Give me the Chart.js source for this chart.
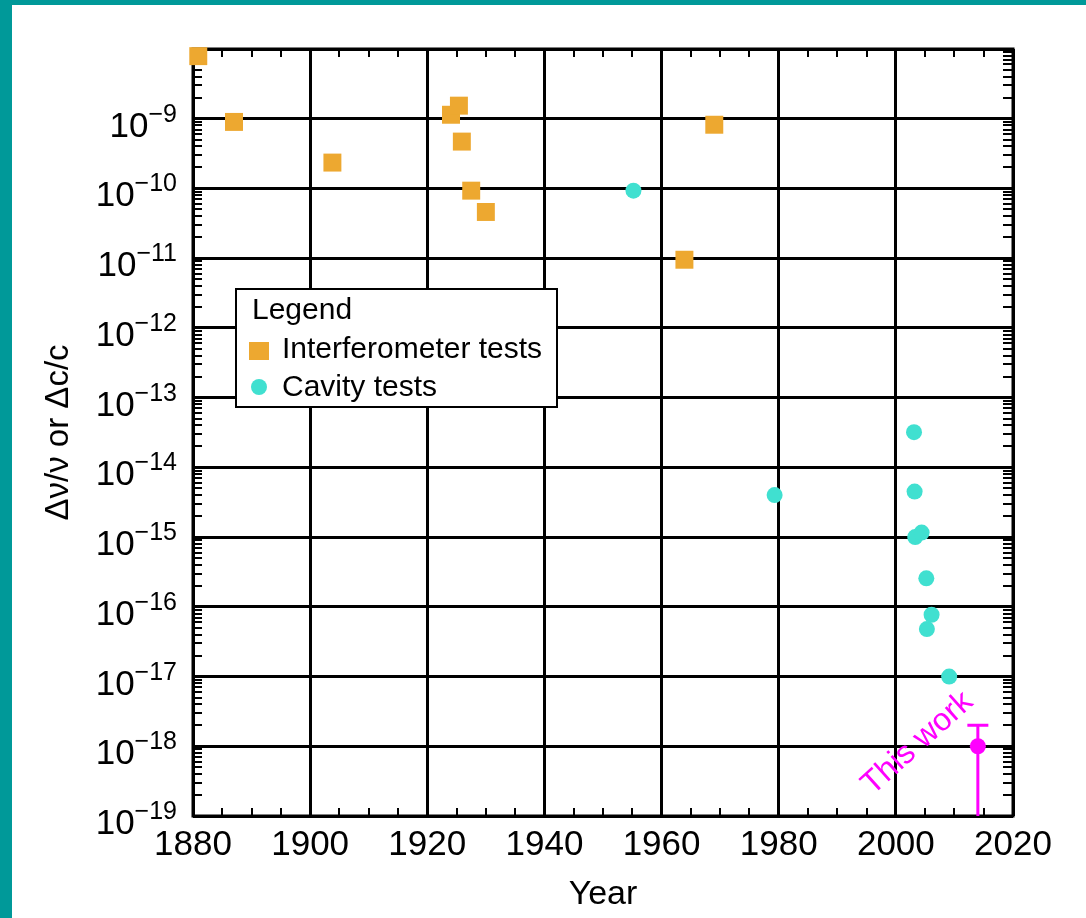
<!DOCTYPE html>
<html>
<head>
<meta charset="utf-8">
<script src="https://cdn.jsdelivr.net/npm/chart.js@4"></script>
<style>
  html, body { margin: 0; padding: 0; background: #009999; width: 1086px; height: 918px; overflow: hidden; }
  #wrap { position: absolute; left: 12px; top: 5px; width: 1074px; height: 913px; background: #ffffff; }
  canvas { display: block; }
</style>
</head>
<body>
<div id="wrap"><canvas id="c" width="1074" height="913"></canvas></div>
<script>
// ---- data ----
const interferometerYears  = [1880.9, 1887.0, 1903.8, 1924.05, 1925.4, 1925.9, 1927.5, 1930.0, 1963.9, 1969.0];
const interferometerValues = [7.9e-9, 9.0e-10, 2.35e-10, 1.14e-9, 1.54e-9, 4.7e-10, 9.3e-11, 4.6e-11, 9.5e-12, 8.2e-10];

const cavityYears  = [1955.2, 1979.3, 2003.1, 2003.2, 2003.3, 2004.4, 2005.2, 2006.1, 2005.3, 2009.1];
const cavityValues = [9.3e-11, 4.0e-15, 3.2e-14, 4.5e-15, 1.0e-15, 1.16e-15, 2.56e-16, 7.7e-17, 4.8e-17, 1.0e-17];

const thisWorkYear  = [2014];
const thisWorkValue = [1e-18];
const thisWorkUpper = [2e-18];
const thisWorkLower = [1e-21];

const xTicks = [1880, 1900, 1920, 1940, 1960, 1980, 2000, 2020];
const xMinorStep = 5;
const yGridExponents  = [-19, -18, -17, -16, -15, -14, -13, -12, -11, -10, -9, -8];
const yLabelExponents = [-19, -18, -17, -16, -15, -14, -13, -12, -11, -10, -9];
const thisWorkLabel = 'This work';
const thisWorkLabelAnchor = { x: 2003.7, y: 1.1e-18 };

const FONT = "'Liberation Sans', Arial, Helvetica, sans-serif";
Chart.defaults.font.family = FONT;

const orange = '#EDA830';
const teal = '#40E0D0';
const magenta = '#FF00FF';

function pts(xs, ys) { return xs.map((x, i) => ({ x: x, y: ys[i] })); }

const framePlugin = {
  id: 'frame',
  beforeDatasetsDraw(chart) {
    const { ctx, chartArea: a, scales } = chart;
    const xs = scales.x, ys = scales.y;
    ctx.save();
    ctx.strokeStyle = '#000';
    ctx.lineWidth = 2;
    ctx.beginPath();
    for (let e = -19; e < -8; e++) {
      for (let m = 2; m <= 9; m++) {
        const py = Math.round(ys.getPixelForValue(m * Math.pow(10, e)));
        ctx.moveTo(a.left, py); ctx.lineTo(a.left + 9, py);
        ctx.moveTo(a.right, py); ctx.lineTo(a.right - 10, py);
      }
    }
    for (let yr = xTicks[0]; yr <= xTicks[xTicks.length - 1]; yr += xMinorStep) {
      if (xTicks.includes(yr)) continue;
      const px = Math.round(xs.getPixelForValue(yr));
      ctx.moveTo(px, a.bottom); ctx.lineTo(px, a.bottom - 8);
      ctx.moveTo(px, a.top); ctx.lineTo(px, a.top + 8);
    }
    ctx.stroke();
    ctx.lineWidth = 3;
    ctx.strokeRect(a.left, a.top, a.right - a.left, a.bottom - a.top);
    ctx.save();
    ctx.beginPath();
    ctx.rect(a.left, a.top, a.right - a.left, a.bottom - a.top);
    ctx.clip();
    ctx.strokeStyle = magenta;
    ctx.lineWidth = 3;
    thisWorkYear.forEach((yr, i) => {
      const px = xs.getPixelForValue(yr);
      const pu = ys.getPixelForValue(thisWorkUpper[i]);
      const pl = ys.getPixelForValue(thisWorkLower[i]);
      ctx.beginPath();
      ctx.moveTo(px, pu); ctx.lineTo(px, pl);
      ctx.moveTo(px - 10.5, pu); ctx.lineTo(px + 10.5, pu);
      ctx.stroke();
    });
    ctx.restore();
    ctx.restore();
  },
  afterDatasetsDraw(chart) {
    const { ctx, chartArea: a, scales } = chart;
    const xs = scales.x, ys = scales.y;
    ctx.save();
    ctx.fillStyle = '#000';
    ctx.textAlign = 'right';
    ctx.textBaseline = 'alphabetic';
    const rightEdge = a.left - 16;
    yLabelExponents.forEach(e => {
      const py = ys.getPixelForValue(Math.pow(10, e));
      const expText = '\u2212' + Math.abs(e);
      ctx.font = '25px ' + FONT;
      const w = ctx.measureText(expText).width;
      ctx.fillText(expText, rightEdge, py + 3);
      ctx.font = '35px ' + FONT;
      ctx.fillText('10', rightEdge - w, py + 18);
    });
    const lx = xs.getPixelForValue(thisWorkLabelAnchor.x);
    const ly = ys.getPixelForValue(thisWorkLabelAnchor.y);
    ctx.save();
    ctx.translate(lx, ly);
    ctx.rotate(-42 * Math.PI / 180);
    ctx.fillStyle = magenta;
    ctx.font = '32px ' + FONT;
    ctx.textAlign = 'center';
    ctx.textBaseline = 'middle';
    ctx.fillText(thisWorkLabel, 0, 0);
    ctx.restore();
    const bx = 223, by = 283, bw = 323, bh = 120;
    ctx.fillStyle = '#fff';
    ctx.fillRect(bx, by, bw, bh);
    ctx.strokeStyle = '#000';
    ctx.lineWidth = 2;
    ctx.strokeRect(bx + 1, by + 1, bw - 2, bh - 2);
    ctx.fillStyle = '#000';
    ctx.textAlign = 'left';
    ctx.textBaseline = 'alphabetic';
    ctx.font = '30px ' + FONT;
    ctx.fillText('Legend', bx + 17, by + 31);
    const ds = chart.data.datasets;
    ctx.fillStyle = ds[0].backgroundColor;
    ctx.fillRect(bx + 14, by + 54, 20, 18);
    ctx.fillStyle = '#000';
    ctx.fillText(ds[0].label, bx + 47, by + 70);
    ctx.fillStyle = ds[1].backgroundColor;
    ctx.beginPath();
    ctx.arc(bx + 24, by + 99, 8, 0, Math.PI * 2);
    ctx.fill();
    ctx.fillStyle = '#000';
    ctx.fillText(ds[1].label, bx + 47, by + 108);
    ctx.restore();
  }
};

new Chart(document.getElementById('c'), {
  type: 'scatter',
  data: {
    datasets: [
      { label: 'Interferometer tests', data: pts(interferometerYears, interferometerValues),
        pointStyle: 'rect', pointRadius: 12.7, backgroundColor: orange, borderWidth: 0, clip: false },
      { label: 'Cavity tests', data: pts(cavityYears, cavityValues),
        pointStyle: 'circle', pointRadius: 8, backgroundColor: teal, borderWidth: 0, clip: false },
      { label: 'This work', data: pts(thisWorkYear, thisWorkValue),
        pointStyle: 'circle', pointRadius: 8, backgroundColor: magenta, borderWidth: 0, clip: false }
    ]
  },
  options: {
    responsive: false,
    animation: false,
    devicePixelRatio: 1,
    layout: { padding: { left: 0, top: 44, right: 73, bottom: 0 } },
    plugins: { legend: { display: false }, tooltip: { enabled: false } },
    scales: {
      x: {
        type: 'linear', min: xTicks[0], max: xTicks[xTicks.length - 1],
        afterBuildTicks: s => { s.ticks = xTicks.map(v => ({ value: v })); },
        afterFit: s => { s.height = 102; },
        ticks: { color: '#000', font: { size: 35 }, padding: 8, maxRotation: 0, autoSkip: false,
                 callback: v => String(v) },
        grid: { color: '#000', lineWidth: 3, drawTicks: false },
        border: { display: false },
        title: { display: true, text: 'Year', color: '#000', font: { size: 34 }, padding: { top: 0, bottom: 3 } }
      },
      y: {
        type: 'logarithmic', min: 1e-19, max: 1e-8,
        afterBuildTicks: s => { s.ticks = yGridExponents.map(e => ({ value: Math.pow(10, e), major: true })); },
        afterFit: s => { s.width = 181; },
        ticks: { display: false },
        grid: { color: '#000', lineWidth: 3, drawTicks: false },
        border: { display: false },
        title: { display: true, text: '\u0394\u03bd/\u03bd or \u0394c/c', color: '#000', font: { size: 33 }, padding: { top: 27, bottom: 0 } }
      }
    }
  },
  plugins: [framePlugin]
});
</script>
</body>
</html>
